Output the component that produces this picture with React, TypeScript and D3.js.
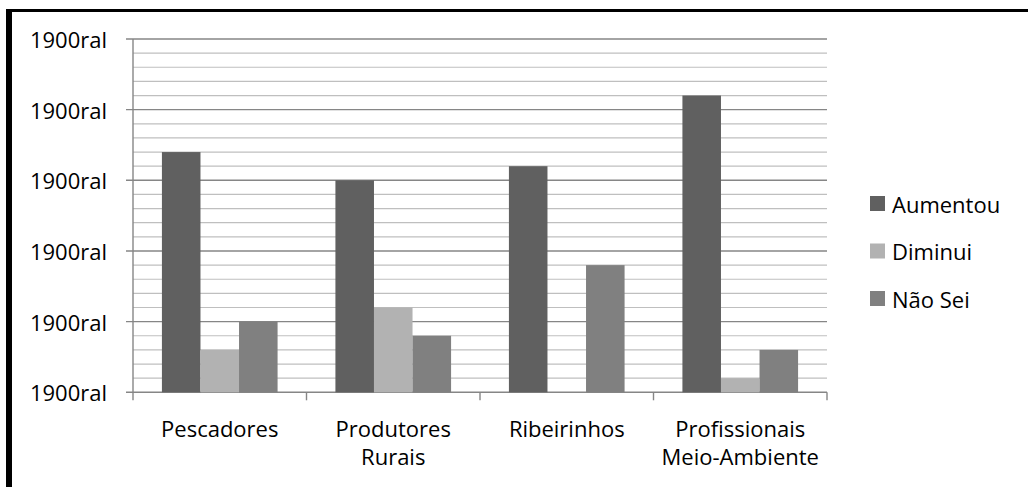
import React from "react";
import * as d3 from "d3";

const categories: string[][] = [
  ["Pescadores"],
  ["Produtores", "Rurais"],
  ["Ribeirinhos"],
  ["Profissionais", "Meio-Ambiente"],
];
const seriesNames = ["Aumentou", "Diminui", "Não Sei"];
const aumentou = [17, 15, 16, 21];
const diminui = [3, 6, 0, 1];
const naoSei = [5, 4, 9, 3];
const seriesColors = ["#606060", "#b2b2b2", "#808080"];
const majorTicks = [0, 5, 10, 15, 20, 25];
const minorTicks = d3.range(0, 26, 1);
const tickLabel = "1900ral";

const W = 1028;
const H = 487;
const FONT = "'Open Sans', sans-serif";

export default function App() {
  const left = 133;
  const right = 827;
  const top = 39;
  const bottom = 392.3;
  const series = [aumentou, diminui, naoSei];

  const x = d3
    .scaleBand<number>()
    .domain(d3.range(categories.length))
    .range([left, right])
    .paddingInner(0)
    .paddingOuter(0);
  const y = d3.scaleLinear().domain([0, 25]).range([bottom, top]);

  const bw = x.bandwidth();
  const barW = bw / 4.5; // gap width 150%
  const gap = (bw - 3 * barW) / 2;

  return (
    <svg
      width={W}
      height={H}
      style={{ position: "absolute", left: 0, top: 0, background: "#fff" }}
      fontFamily={FONT}
    >
      <rect x={0} y={0} width={W} height={H} fill="#fff" />
      {/* minor gridlines */}
      {minorTicks
        .filter((t) => t % 5 !== 0)
        .map((t) => (
          <line
            key={"mi" + t}
            x1={left}
            x2={right}
            y1={y(t)}
            y2={y(t)}
            stroke="#bfbfbf"
            strokeWidth={1.2}
          />
        ))}
      {/* major gridlines + ticks + labels */}
      {majorTicks.map((t) => (
        <g key={"ma" + t}>
          <line x1={126} x2={right} y1={y(t)} y2={y(t)} stroke="#868686" strokeWidth={1.4} />
          <text
            x={107}
            y={y(t)}
            textAnchor="end"
            dominantBaseline="central"
            fontSize={22}
            fill="#000"
          >
            {tickLabel}
          </text>
        </g>
      ))}
      {/* value axis line */}
      <line x1={left} x2={left} y1={top} y2={bottom} stroke="#868686" strokeWidth={1.4} />
      {/* category ticks */}
      {d3.range(categories.length + 1).map((i) => {
        const xx = left + i * bw;
        return (
          <line key={"ct" + i} x1={xx} x2={xx} y1={bottom} y2={bottom + 8} stroke="#868686" strokeWidth={1.4} />
        );
      })}
      {/* bars */}
      {series.map((vals, si) =>
        vals.map((v, ci) => (
          <rect
            key={`b${si}-${ci}`}
            x={(x(ci) as number) + gap + si * barW}
            y={y(v)}
            width={barW}
            height={bottom - y(v)}
            fill={seriesColors[si]}
          />
        ))
      )}
      {/* category labels */}
      {categories.map((lines, ci) => (
        <text
          key={"cl" + ci}
          x={(x(ci) as number) + bw / 2}
          y={428}
          textAnchor="middle"
          dominantBaseline="central"
          fontSize={22}
          fill="#000"
        >
          {lines.map((ln, li) => (
            <tspan key={li} x={(x(ci) as number) + bw / 2} dy={li === 0 ? 0 : 28}>
              {ln}
            </tspan>
          ))}
        </text>
      ))}
      {/* legend */}
      {seriesNames.map((name, i) => {
        const cy = 203.5 + i * 47.5;
        return (
          <g key={"lg" + i}>
            <rect x={870} y={cy - 7.5} width={15} height={15} fill={seriesColors[i]} />
            <text x={892} y={cy} dominantBaseline="central" fontSize={22} fill="#000">
              {name}
            </text>
          </g>
        );
      })}
      {/* frame */}
      <rect x={6} y={9} width={W - 6} height={3} fill="#000" />
      <rect x={6} y={9} width={6} height={H - 9} fill="#000" />
    </svg>
  );
}
